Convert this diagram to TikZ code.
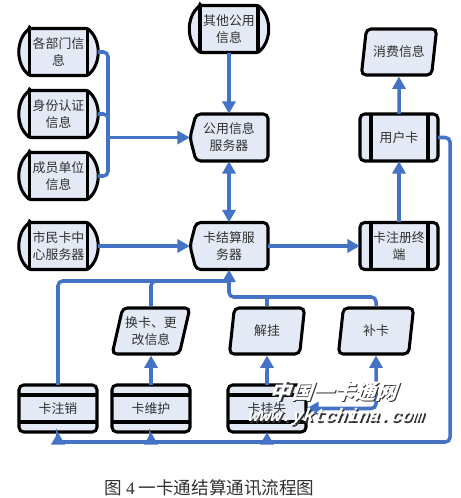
\documentclass[tikz,border=0pt]{standalone}
\usepackage{fontspec}
\usepackage{xcolor,tikz}
\usetikzlibrary{arrows.meta,positioning,calc,shapes.geometric}
\newfontfamily\cjk{Noto Sans CJK SC}
\newfontfamily\wmfont{Liberation Mono}
\newfontfamily\capfont{Liberation Serif}
\definecolor{FlowMain}{HTML}{4472C4}
\definecolor{BoxBack}{HTML}{E4EAF5}
\definecolor{TextMain}{HTML}{303030}
\tikzset{>={Triangle[length=3.7mm,width=3.9mm]},
 label/.style={font=\cjk\fontsize{11}{14.5}\selectfont,text=TextMain,align=center,
  inner sep=0pt,minimum width=23.4mm,minimum height=14.1mm},
 outline/.style={draw=black,fill=BoxBack,line width=2.6pt},
 inner/.style={draw=black,line width=2.6pt},
 slantbox/.style={trapezium,trapezium left angle=70,trapezium right angle=110,draw=black,
  fill=BoxBack,line width=2.6pt,rounded corners=4pt,font=\cjk\fontsize{11}{14.5}\selectfont,
  text=TextMain,align=center,inner sep=0pt,text width=17mm,minimum height=13.8mm,
  trapezium stretches=true,minimum width=22.6mm},
 flow/.style={draw=FlowMain,line width=3pt,rounded corners=4pt},
 wmtext/.style={text=white,inner sep=0pt,xslant=.35},
 wmshade/.style={text=black!80,inner sep=0pt,xslant=.35}}
\begin{document}
\begin{tikzpicture}[x=.3mm,y=-.3mm]
\useasboundingbox (0,0) rectangle (460,498);
% sources with curved sides
\foreach \nm/\x/\y/\lab in {dept/58.5/52/{各部门信\\息},ident/58.5/114/{身份认证\\信息},member/58.5/176/{成员单位\\信息},citizen/58.5/246/{市民卡中\\心服务器},other/229/29/{其他公用\\信息}}
 {\path[outline,rounded corners=1pt] (\x-29,\y-23.5)--(\x+29,\y-23.5) .. controls (\x+43,\y-12) and (\x+43,\y+12) .. (\x+29,\y+23.5)--(\x-29,\y+23.5) .. controls (\x-43,\y+12) and (\x-43,\y-12) .. (\x-29,\y-23.5)--cycle;
 \draw[inner] (\x-29,\y-23.5)--(\x-29,\y+23.5) (\x+29,\y-23.5)--(\x+29,\y+23.5);
 \node[label] (\nm) at (\x,\y) {\lab};}
% servers
\foreach \nm/\y/\lab in {pubsrv/137.5/{公用信息\\服务器},settle/246/{卡结算服\\务器}}
 {\path[outline,rounded corners=4pt] (196,\y-23.5)--(268,\y-23.5)--(268,\y+23.5)--(196,\y+23.5)--(190,\y)--cycle;
 \node[label] (\nm) at (229,\y) {\lab};}
% boxes with side bars
\foreach \nm/\y/\lab in {usercard/137.5/用户卡,regterm/246/{卡注册终\\端}}
 {\path[outline,rounded corners=4pt] (360,\y-23.5) rectangle (438,\y+23.5);
 \draw[inner] (371,\y-23.5)--(371,\y+23.5) (428,\y-23.5)--(428,\y+23.5);
 \node[label] (\nm) at (399,\y) {\lab};}
% boxes with top and bottom bars
\foreach \nm/\x/\lab in {cancel/58/卡注销,maint/151/卡维护,lost/267/卡挂失}
 {\path[outline,rounded corners=4pt] (\x-39,385) rectangle (\x+39,432);
 \draw[inner] (\x-39,395)--(\x+39,395) (\x-39,422)--(\x+39,422);
 \node[label] (\nm) at (\x,408.5) {\lab};}
% slanted boxes
\foreach \nm/\x/\y/\lab in {spend/399/52/消费信息,change/151/331/{换卡、更\\改信息},unhang/267/331/解挂,reissue/376/331/补卡}
 {\node[slantbox] (\nm) at (\x,\y) {\lab};}
% connectors
\coordinate (merge) at (108,137.5);
\coordinate (busa) at (229,281);
\coordinate (busb) at (229,297);
\coordinate (ret) at (450,442);
\draw[flow] (dept.east)-|(merge);
\draw[flow] (member.east)-|(merge);
\draw[flow] (ident.east)-|(merge);
\draw[flow,->] (merge)--(pubsrv.west);
\draw[flow,->] (other.south)--(pubsrv.north);
\draw[flow,<->] (pubsrv.south)--(settle.north);
\draw[flow,->] (citizen.east)--(settle.west);
\draw[flow,->] (settle.east)--(regterm.west);
\draw[flow,->] (regterm.north)--(usercard.south);
\draw[flow,->] (usercard.north)--(spend.south);
\draw[flow] (cancel.north)|-(busa);
\draw[flow] (change.north)|-(busa);
\draw[flow,->] (reissue.north)|-(busb)--(settle.south);
\draw[flow] (unhang.north)--(unhang.north|-busb);
\draw[flow,->] (maint.north)--(change.south);
\draw[flow,->] (lost.north)--(unhang.south);
\draw[flow,<->] (reissue.south)|-(lost.east);
\draw[flow] (usercard.east)-|(ret)--(lost.south|-ret);
\draw[flow,->] (lost.south|-ret)--(lost.south);
\draw[flow,->] (lost.south|-ret)--(maint.south|-ret)--(maint.south);
\draw[flow,->] (maint.south|-ret)-|(cancel.south);
% overprint and caption
\node[wmshade,font=\cjk\bfseries\fontsize{18}{18}\selectfont] (mark1s) at (337.5,392.5) {中国一卡通网};
\node[wmtext,font=\cjk\bfseries\fontsize{18}{18}\selectfont] (mark1) at (336,391) {中国一卡通网};
\node[wmshade,font=\wmfont\bfseries\fontsize{15.6}{16}\selectfont] (mark2s) at (338,418.5) {www.yktchina.com};
\node[wmtext,font=\wmfont\bfseries\fontsize{15.6}{16}\selectfont] (mark2) at (336.5,417) {www.yktchina.com};
\node[font=\cjk\fontsize{15}{17}\selectfont,text=TextMain,inner sep=0pt] (caption) at (209.5,488) {图\ {\capfont 4}\ 一卡通结算通讯流程图};
\end{tikzpicture}
\end{document}
